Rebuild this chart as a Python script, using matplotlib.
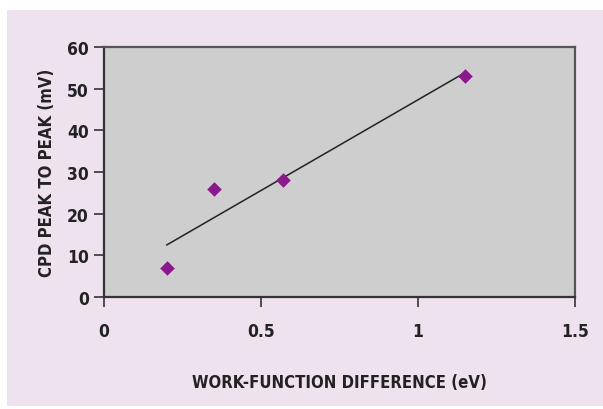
import numpy as np
import matplotlib
matplotlib.use('Agg')
import matplotlib.pyplot as plt
from matplotlib.patches import Rectangle

# values
work_function_diff = [0.2, 0.35, 0.57, 1.15]
cpd_peak_to_peak = [7, 26, 28, 53]
x_ticks = [0, 0.5, 1, 1.5]
x_tick_labels = ['0', '0.5', '1', '1.5']
y_ticks = [0, 10, 20, 30, 40, 50, 60]

plt.rcParams['font.family'] = ['DejaVu Sans']
plt.rcParams['font.stretch'] = 'condensed'

W, H = 603, 410
fig = plt.figure(figsize=(W / 100, H / 100), dpi=100, facecolor='white')

# pink panel behind the chart
bg = Rectangle((7 / W, 3 / H), (W - 7) / W, (H - 14) / H,
               transform=fig.transFigure, facecolor='#efe2ef',
               edgecolor='none', zorder=-10)
fig.add_artist(bg)

ax = fig.add_axes([104 / W, (H - 298) / H, (575 - 104) / W, (298 - 48) / H])
ax.set_zorder(1)
ax.set_facecolor('#cecece')

ax.scatter(work_function_diff, cpd_peak_to_peak, marker='D', s=55,
           color='#8a1a8c', zorder=3, linewidths=0)

# linear trendline
slope, intercept = np.polyfit(work_function_diff, cpd_peak_to_peak, 1)
xs = np.array([min(work_function_diff), max(work_function_diff)])
ax.plot(xs, slope * xs + intercept, color='#222222', linewidth=1.1, zorder=2)

ax.set_xlim(0, 1.5)
ax.set_ylim(0, 60)
ax.set_xticks(x_ticks)
ax.set_xticklabels(x_tick_labels)
ax.set_yticks(y_ticks)

for spine in ax.spines.values():
    spine.set_color('#555555')
    spine.set_linewidth(1.6)
for side in ['left', 'bottom']:
    ax.spines[side].set_color('#333333')

ax.tick_params(axis='both', direction='out', colors='#333333',
               labelcolor='#222222', labelsize=12.5, width=1.2)
ax.tick_params(axis='x', length=7, pad=11)
ax.tick_params(axis='y', length=7, pad=4)
for lab in ax.get_xticklabels() + ax.get_yticklabels():
    lab.set_fontweight('bold')

ax.set_xlabel('WORK-FUNCTION DIFFERENCE (eV)', fontsize=12, fontweight='bold',
              color='#222222', labelpad=24)
ax.set_ylabel('CPD PEAK TO PEAK (mV)', fontsize=12, fontweight='bold',
              color='#222222', labelpad=8)

fig.savefig('out.png', dpi=100, facecolor='white')
